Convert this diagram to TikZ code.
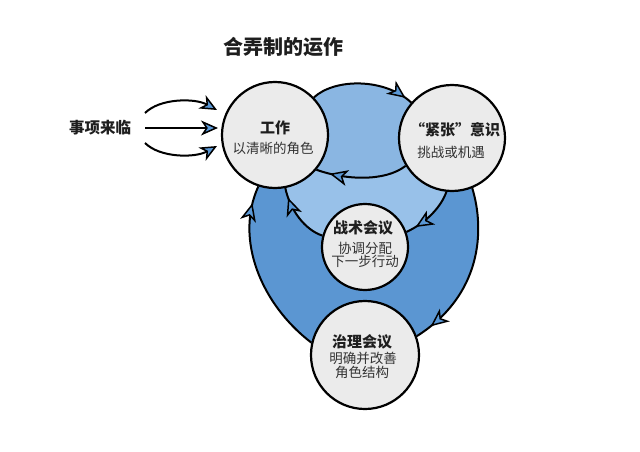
\documentclass[tikz,border=0pt]{standalone}
\usepackage{fontspec}
\setmainfont{Noto Sans CJK SC}
\usetikzlibrary{arrows.meta,decorations.markings,backgrounds}
\definecolor{outerblue}{HTML}{5B96D2}
\definecolor{innerblue}{HTML}{98C1E9}
\definecolor{ringblue}{HTML}{8AB6E2}
\definecolor{tipblue}{HTML}{5A98D6}
\definecolor{discgray}{HTML}{EBEBEB}
\definecolor{ink}{HTML}{1E1E1E}
\definecolor{soft}{HTML}{333333}
\begin{document}
\begin{tikzpicture}[x=1pt,y=-1pt,
  disc/.style={circle,draw=black,line width=2.2pt,fill=discgray,inner sep=0pt,minimum size=#1},
  flow/.style={draw=black,line width=2pt},
  midtip/.style={postaction={decorate},decoration={markings,mark=at position #1 with {\arrow{Stealth[length=18pt,width=16pt,inset=5pt,line width=1.5pt,fill=tipblue]}}}},
  entry/.style={draw=black,line width=2pt,-{Stealth[length=17pt,width=15pt,inset=5pt,line width=1.5pt,fill=tipblue]}},
  heading/.style={font=\fontsize{15}{15}\selectfont\bfseries,text=ink,inner sep=0pt},
  body/.style={font=\fontsize{13.5}{13.5}\selectfont,text=soft,inner sep=0pt}
]
\useasboundingbox (0,0) rectangle (640,452);

% circles
\node[disc=106pt] (work) at (275,135) {};
\node[disc=106pt] (tens) at (452,138) {};
\node[disc=86pt] (tact) at (365,247) {};
\node[disc=108pt] (gov) at (365,355) {};

% coloured regions
\begin{pgfonlayer}{background}
\fill[white] (0,0) rectangle (640,452);
\fill[outerblue] (work.center) -- (work.252) .. controls (234,240) and (262,305) .. (gov.167)
  -- (gov.center) -- (gov.20) .. controls (482,295) and (485,230) .. (tens.292) -- (tens.center) -- cycle;
\fill[innerblue] (work.center) -- (work.281) .. controls (290,210) and (305,230) .. (tact.165)
  -- (tact.center) -- (tact.20) .. controls (428,222) and (442,205) .. (tens.264) -- (tens.center) -- cycle;
\fill[ringblue] (work.center) -- (work.44) .. controls (335,78) and (385,78) .. (tens.139)
  -- (tens.center) -- (tens.211) .. controls (385,182) and (345,180) .. (work.320) -- cycle;
\end{pgfonlayer}

% connectors
\draw[flow,midtip=0.93] (work.44) .. controls (335,78) and (385,78) .. (tens.139);
\draw[flow,midtip=0.85] (tens.211) .. controls (385,182) and (345,180) .. (work.320);
\draw[flow,midtip=0.82] (tens.264) .. controls (442,205) and (428,222) .. (tact.20);
\draw[flow,midtip=0.84] (tact.165) .. controls (305,230) and (290,210) .. (work.281);
\draw[flow,midtip=0.9] (gov.167) .. controls (262,305) and (234,240) .. (work.252);
\draw[flow,midtip=0.9] (tens.292) .. controls (485,230) and (482,295) .. (gov.20);

% title and source
\node[font=\fontsize{20}{20}\selectfont\bfseries,text=ink,inner sep=0pt] (title) at (283,47) {合弄制的运作};
\node[font=\fontsize{15.5}{15.5}\selectfont\bfseries,text=ink,inner sep=0pt] (src) at (100,128) {事项来临};

\coordinate (srcT) at (145,113);
\coordinate (srcM) at (145,128);
\coordinate (srcB) at (145,143);
\coordinate (inT) at (217,110);
\coordinate (inM) at (218,128);
\coordinate (inB) at (217,146);
\draw[entry] (srcT) .. controls (160,98) and (195,98) .. (inT);
\draw[entry] (srcM) -- (inM);
\draw[entry] (srcB) .. controls (160,158) and (195,158) .. (inB);

% texts
\node[heading] (workA) at (275,128) {工作};
\node[body] (workB) at (273,148) {以清晰的角色};
\node[heading] (tensA) at (455,130) {“紧张”意识};
\node[body] (tensB) at (451,152) {挑战或机遇};
\node[heading] (tactA) at (363,228) {战术会议};
\node[body] (tactB) at (365,248) {协调分配};
\node[body] (tactC) at (365,261) {下一步行动};
\node[heading] (govA) at (362,342) {治理会议};
\node[body] (govB) at (363,358) {明确并改善};
\node[body] (govC) at (362,372) {角色结构};
\end{tikzpicture}
\end{document}
